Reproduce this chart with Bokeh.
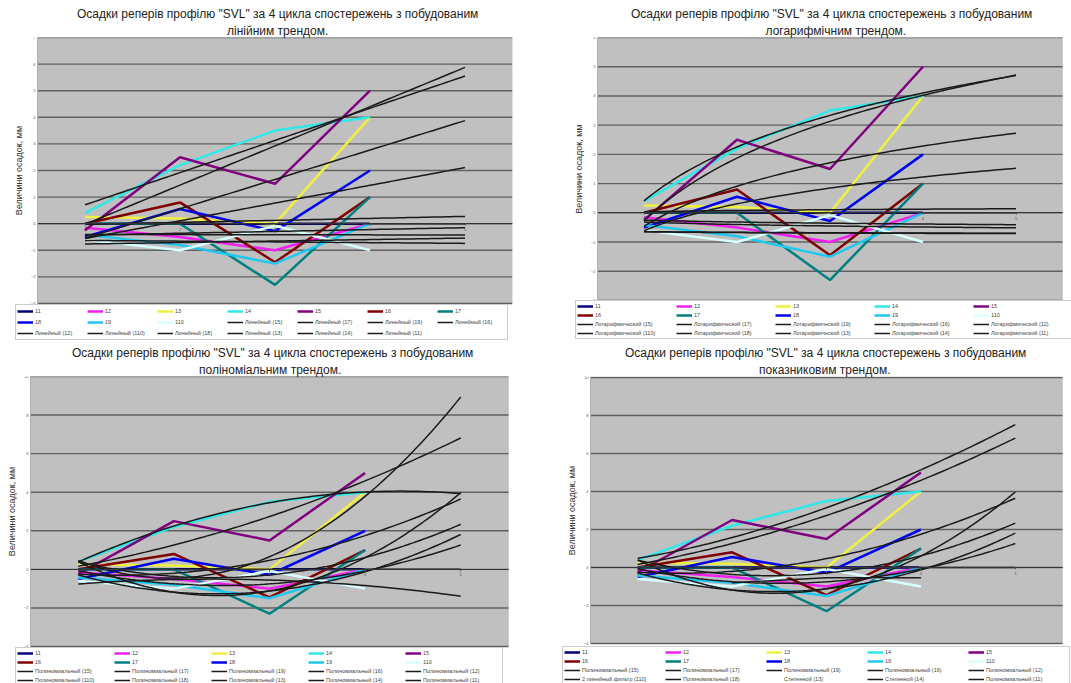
import numpy as np
from bokeh.plotting import figure
from bokeh.models import (Title, Legend, LegendItem, FixedTicker, ColumnDataSource,
                          BoxAnnotation, Label)
from bokeh.layouts import column, row
from bokeh.embed import file_html
from bokeh.resources import INLINE

# ---------------- data ----------------
cycles = [1, 2, 3, 4]
x_ticks = [1, 2, 3, 4, 5]
trend_end = 5

s11 = [0.0, 0.0, 0.0, 0.0]
s12 = [-0.15, -0.5, -1.0, 0.0]
s13 = [0.25, 0.2, 0.0, 4.0]
s14 = [0.4, 2.2, 3.5, 4.0]
s15 = [-0.25, 2.5, 1.5, 5.0]
s16 = [0.0, 0.8, -1.45, 1.0]
s17 = [0.0, 0.0, -2.3, 1.0]
s18 = [-0.5, 0.55, -0.28, 2.0]
s19 = [-0.42, -0.8, -1.5, 0.0]
s110 = [-0.6, -1.0, -0.08, -1.0]

series_names = ["11", "12", "13", "14", "15", "16", "17", "18", "19", "110"]
series_values = [s11, s12, s13, s14, s15, s16, s17, s18, s19, s110]
series_colors = ["#000080", "#F020F0", "#F0F040", "#30E8E8", "#800080",
                 "#800000", "#008080", "#0000F0", "#20C8F0", "#D8FFFF"]

trend_order = ["15", "17", "19", "16", "12", "110", "18", "13", "14", "11"]

title_line1 = 'Осадки реперів профілю "SVL" за 4 цикла спостережень з побудованим'
titles_line2 = ["лінійним трендом.", "логарифмічним трендом.",
                "поліноміальним трендом.", "показниковим трендом."]
y_label = "Величини осадок, мм"
x_label_4 = "Цикли"

y_ticks_1 = [-3, -2, -1, 0, 1, 2, 3, 4, 5, 6, 7]
y_ticks_2 = [-3, -2, -1, 0, 1, 2, 3, 4, 5, 6]
y_ticks_34 = [-4, -2, 0, 2, 4, 6, 8, 10]

kinds_1 = ["linear"] * 10
kinds_2 = ["log"] * 10
kinds_3 = ["poly"] * 10
kinds_4 = ["poly", "poly", "poly", "poly", "poly", "ma2", "poly", "power", "power", "poly"]

labels_1 = ["Линейный (%s)" % n for n in trend_order]
labels_2 = ["Логарифмический (%s)" % n for n in trend_order]
labels_3 = ["Полиномиальный (%s)" % n for n in trend_order]
labels_4 = ["Полиномиальный (15)", "Полиномиальный (17)", "Полиномиальный (19)",
            "Полиномиальный (16)", "Полиномиальный (12)", "2 линейный фильтр (110)",
            "Полиномиальный (18)", "Степенной (13)", "Степенной (14)", "Полиномиальный (11)"]

FONT = "Liberation Sans"
X_MIN, X_MAX = 0.5, 5.5
TITLE_W1 = 397  # approx. rendered width of title line 1 (px)


def fit_curve(kind, yvals):
    x = np.array(cycles, dtype=float)
    y = np.array(yvals, dtype=float)
    xs = np.linspace(cycles[0], trend_end, 81)
    if kind == "linear":
        c = np.polyfit(x, y, 1)
        return xs, np.polyval(c, xs)
    if kind == "log":
        c = np.polyfit(np.log(x), y, 1)
        return xs, c[0] * np.log(xs) + c[1]
    if kind == "poly":
        c = np.polyfit(x, y, 2)
        return xs, np.polyval(c, xs)
    if kind == "power":
        if np.any(y <= 0):
            return np.array([]), np.array([])
        c = np.polyfit(np.log(x), np.log(y), 1)
        return xs, np.exp(c[1]) * xs ** c[0]
    if kind == "ma2":
        return x[1:], (y[1:] + y[:-1]) / 2.0
    return np.array([]), np.array([])


def make_chart(size, frame, plot, yr, yticks, line2, line2_w, title_cx, kinds, tlabels,
               ncols, col_label_w, row_h, leg_pos, xlabel=None):
    W, H = size
    FL, FR, FT, FB = frame
    PL, PR, PT, PB = plot
    ymin, ymax = yr
    ppx = (PR - PL) / (X_MAX - X_MIN)
    ppu = (PB - PT) / (ymax - ymin)
    x_range = (X_MIN - (PL - FL) / ppx, X_MAX + (FR - PR) / ppx)
    y_range = (ymin - (FB - PB) / ppu, ymax + (PT - FT) / ppu)

    p = figure(width=W, height=H, x_range=x_range, y_range=y_range,
               output_backend="svg", toolbar_location=None, title=None,
               min_border_left=FL, min_border_right=W - FR,
               min_border_top=FT, min_border_bottom=H - FB)
    p.background_fill_color = "white"
    p.border_fill_color = "white"
    p.outline_line_color = None
    p.xgrid.visible = False
    p.ygrid.visible = False

    t2 = Title(text=line2, align="left", offset=title_cx - line2_w / 2 - FL,
               text_font=FONT, text_font_size="12px",
               text_font_style="normal", text_color="#222222", standoff=0)
    t1 = Title(text=title_line1, align="left", offset=title_cx - TITLE_W1 / 2 - FL,
               text_font=FONT, text_font_size="12px",
               text_font_style="normal", text_color="#222222", standoff=2)
    p.add_layout(t2, "above")
    p.add_layout(t1, "above")

    # plot area
    p.add_layout(BoxAnnotation(left=X_MIN, right=X_MAX, bottom=ymin, top=ymax,
                               fill_color="#C0C0C0", fill_alpha=1.0,
                               line_color="#A8A8A8", line_width=1, level="underlay"))
    grid_src = ColumnDataSource(dict(x0=[X_MIN] * len(yticks), x1=[X_MAX] * len(yticks),
                                     y=yticks))
    p.segment(x0="x0", y0="y", x1="x1", y1="y", source=grid_src,
              line_color="#606060", line_width=1.4)

    # axes
    p.yaxis.fixed_location = X_MIN
    p.yaxis.bounds = (ymin, ymax)
    p.yaxis.ticker = FixedTicker(ticks=yticks)
    p.yaxis.axis_label = y_label
    p.yaxis.axis_label_text_font = FONT
    p.yaxis.axis_label_text_font_size = "9px"
    p.yaxis.axis_label_text_font_style = "normal"
    p.yaxis.axis_label_text_color = "#333333"
    p.yaxis.axis_label_standoff = 4
    p.yaxis.major_label_text_font = FONT
    p.yaxis.major_label_text_font_size = "4px"
    p.yaxis.major_label_text_color = "#555555"
    p.yaxis.major_label_standoff = 2
    p.yaxis.major_tick_out = 0
    p.yaxis.major_tick_in = 0
    p.yaxis.minor_tick_line_color = None
    p.yaxis.axis_line_color = "#B0B0B0"

    p.xaxis.fixed_location = 0
    p.xaxis.bounds = (X_MIN, X_MAX)
    p.xaxis.ticker = FixedTicker(ticks=x_ticks)
    p.xaxis.major_label_text_font = FONT
    p.xaxis.major_label_text_font_size = "4px"
    p.xaxis.major_label_text_color = "#555555"
    p.xaxis.major_label_standoff = 2
    p.xaxis.major_tick_out = 2
    p.xaxis.major_tick_in = 0
    p.xaxis.major_tick_line_color = "#555555"
    p.xaxis.minor_tick_line_color = None
    p.xaxis.axis_line_color = "#333333"

    items = []
    for name, vals, col in zip(series_names, series_values, series_colors):
        src = ColumnDataSource(dict(x=cycles, y=vals))
        r = p.line("x", "y", source=src, line_color=col, line_width=2.5)
        items.append(LegendItem(label=name, renderers=[r]))

    lookup = dict(zip(series_names, series_values))
    for name, kind, lab in zip(trend_order, kinds, tlabels):
        xs, ys = fit_curve(kind, lookup[name])
        src = ColumnDataSource(dict(x=list(xs), y=list(ys)))
        r = p.line("x", "y", source=src, line_color="#1A1A1A", line_width=1.5)
        items.append(LegendItem(label=lab, renderers=[r]))

    if xlabel:
        p.add_layout(Label(x=(X_MIN + X_MAX) / 2, y=ymin, y_offset=-2, text=xlabel,
                           text_font=FONT, text_font_size="5px", text_align="center",
                           text_baseline="top", text_color="#444444"))

    nrows = int(np.ceil(len(items) / ncols))
    pad, sp = 1, 1
    leg_h = 2 * pad + nrows * row_h + (nrows - 1) * sp
    lx, ltop = leg_pos
    legend = Legend(items=items, location=(lx - FL, FB - (ltop + leg_h)),
                    orientation="horizontal", ncols=ncols,
                    label_text_font=FONT, label_text_font_size="5.5px",
                    label_text_color="#444444", label_text_baseline="middle",
                    glyph_width=16, glyph_height=row_h, label_height=row_h,
                    label_width=col_label_w, label_standoff=2, spacing=sp,
                    padding=pad, margin=0, border_line_color="#9A9A9A",
                    border_line_width=1, background_fill_color="white",
                    background_fill_alpha=1.0)
    p.add_layout(legend)
    return p


p1 = make_chart((530, 340), (4, 512, 37, 340), (37, 512, 37, 303), (-3, 7), y_ticks_1,
                titles_line2[0], 97, 275, kinds_1, labels_1, 7, 51, 10, (15, 306))
p2 = make_chart((541, 340), (31, 541, 37, 340), (67, 532, 37, 300), (-3, 6), y_ticks_2,
                titles_line2[1], 128, 299, kinds_2, labels_2, 5, 80, 8, (45, 302))
p3 = make_chart((530, 343), (4, 512, 36, 343), (30, 508, 36, 306), (-4, 10), y_ticks_34,
                titles_line2[2], 143, 270, kinds_3, labels_3, 5, 78, 8, (15, 309))
p4 = make_chart((541, 343), (31, 541, 36, 343), (60, 532, 37, 303), (-4, 10), y_ticks_34,
                titles_line2[3], 129, 293, kinds_4, labels_4, 5, 82, 8, (32, 308),
                xlabel=x_label_4)

layout = column(row(p1, p2), row(p3, p4))
open("out.html", "w").write(file_html(layout, INLINE))
